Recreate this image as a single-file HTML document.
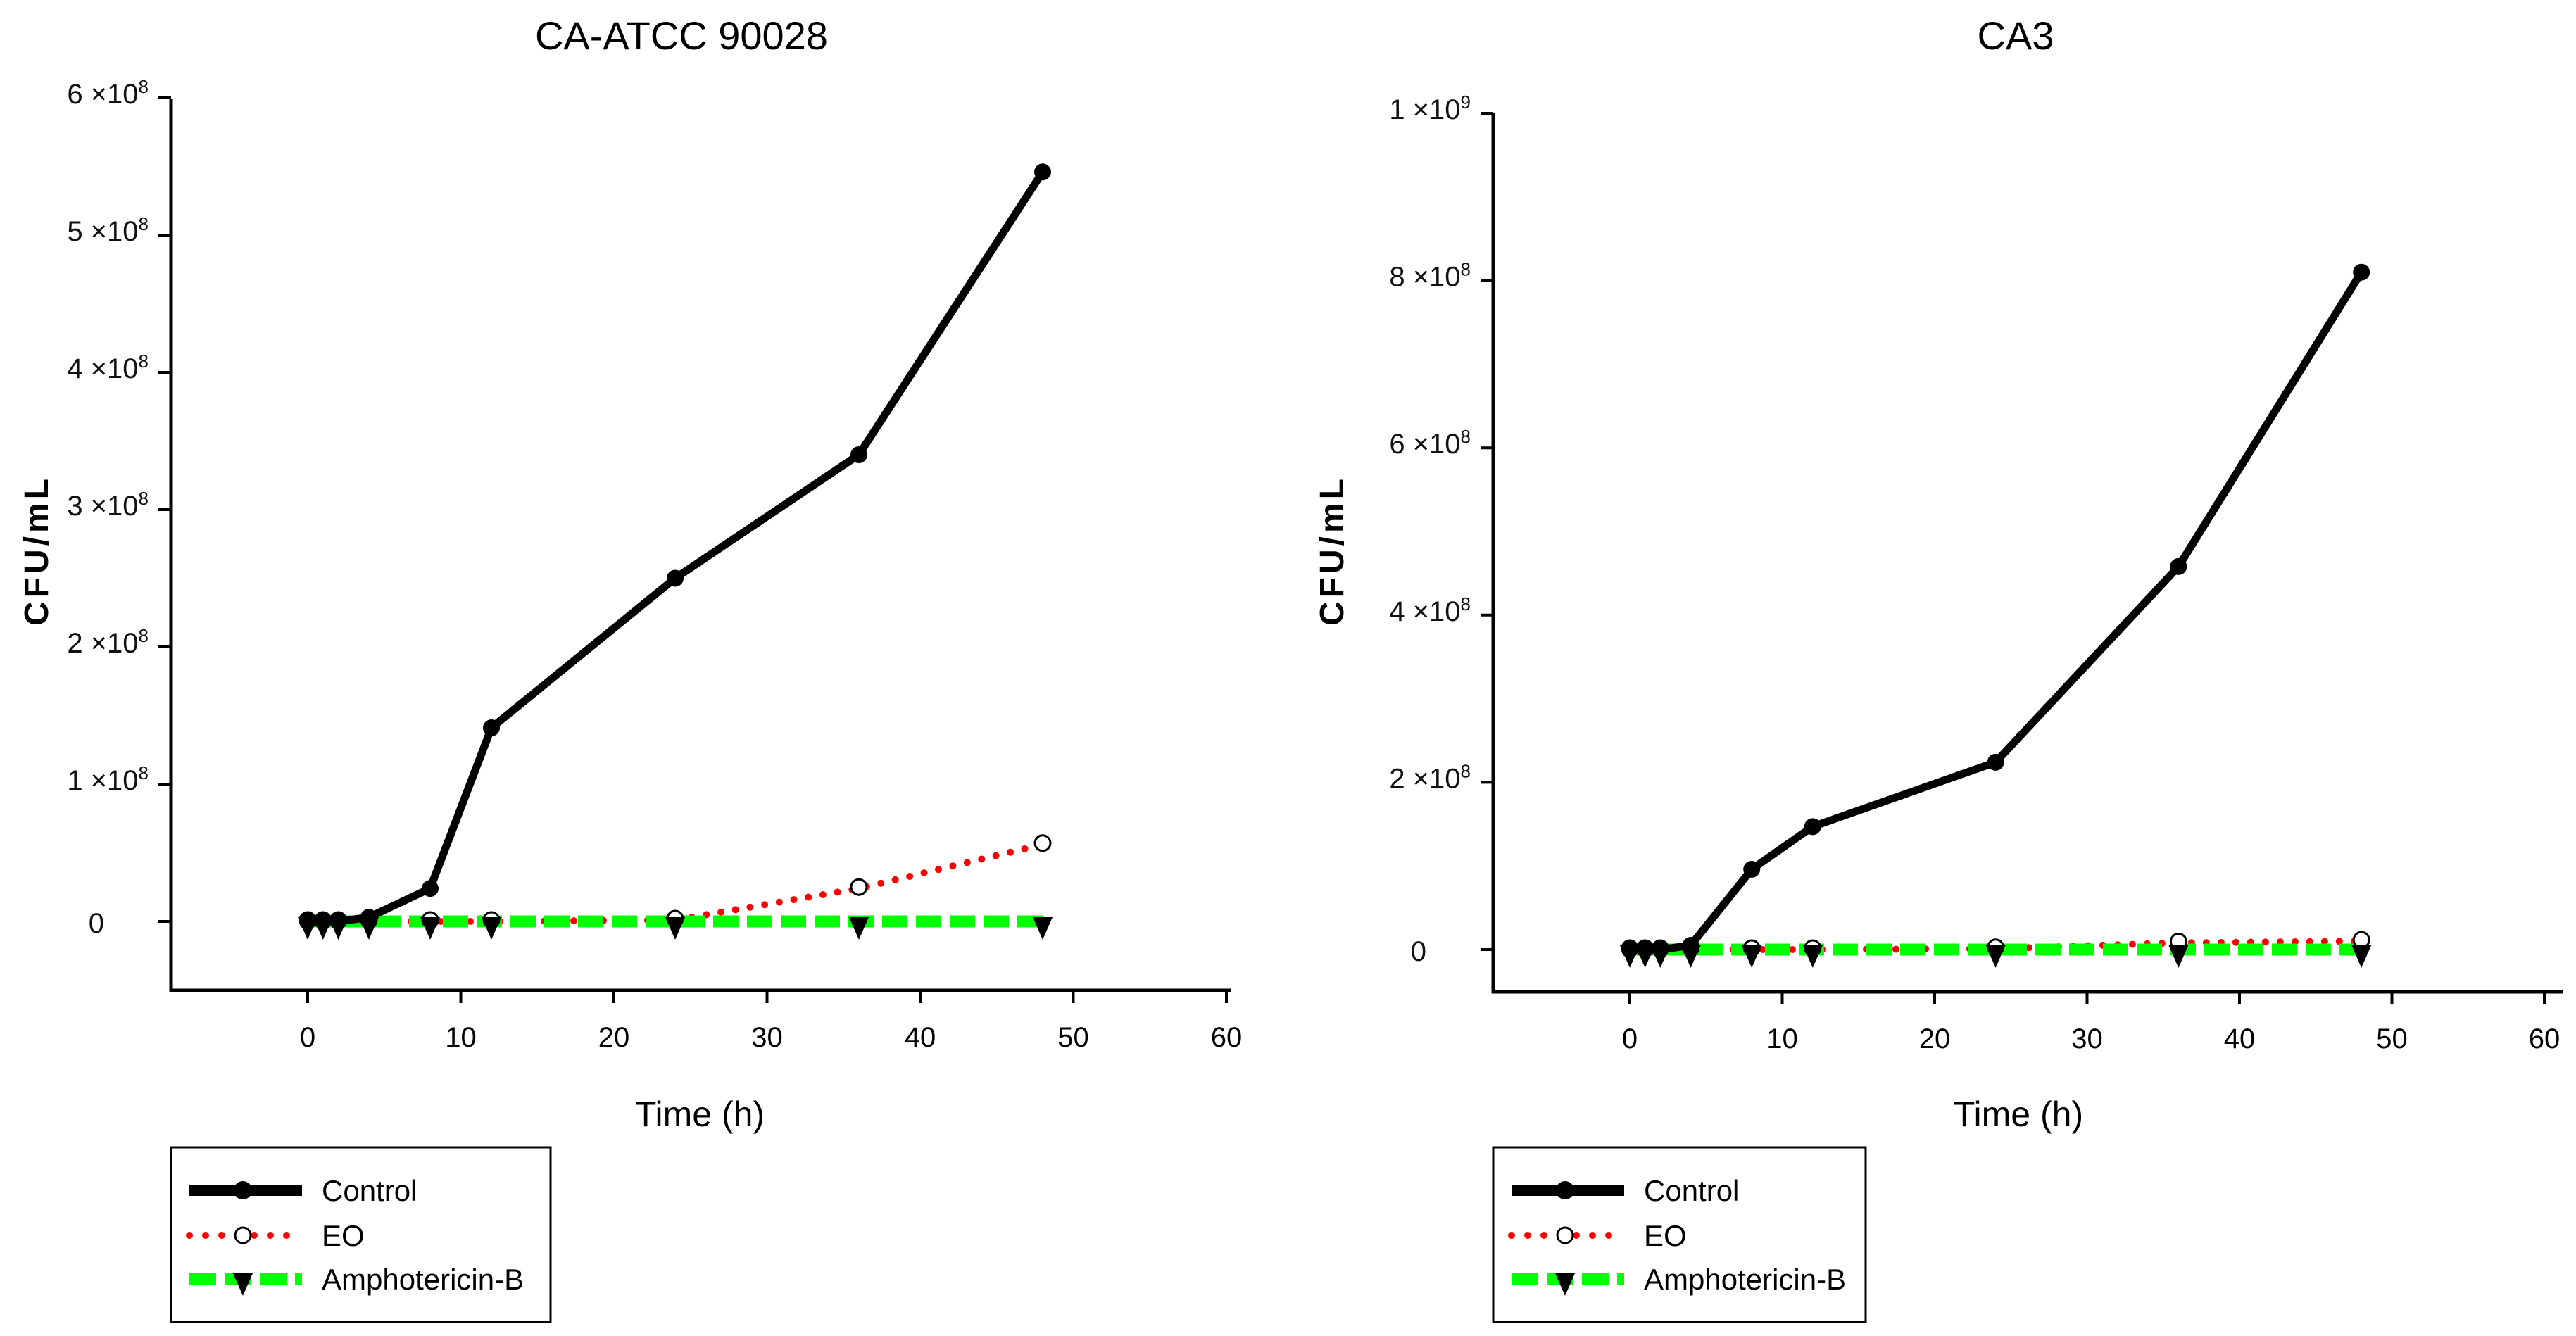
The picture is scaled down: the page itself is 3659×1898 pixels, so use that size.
<!DOCTYPE html>
<html><head><meta charset="utf-8">
<style>
html,body{margin:0;padding:0;background:#fff;}
svg{display:block;font-family:"Liberation Sans",sans-serif;}
</style></head>
<body>
<svg id="svg" width="3659" height="1898" viewBox="0 0 3659 1898" xmlns="http://www.w3.org/2000/svg"></svg>
<script>
const times = [0, 1, 2, 4, 8, 12, 24, 36, 48];
const ctrlA = [0, 0, 0, 0.03e8, 0.24e8, 1.41e8, 2.5e8, 3.4e8, 5.46e8];
const eoA   = [0, 0, 0, 0, 0, 0, 0.01e8, 0.24e8, 0.56e8];
const ampA  = [0, 0, 0, 0, 0, 0, 0, 0, 0];
const ctrlB = [0, 0, 0, 0.05e8, 0.96e8, 1.47e8, 2.24e8, 4.58e8, 8.1e8];
const eoB   = [0, 0, 0, 0, 0, 0, 0.01e8, 0.08e8, 0.1e8];
const ampB  = [0, 0, 0, 0, 0, 0, 0, 0, 0];
const xTicks = [0, 10, 20, 30, 40, 50, 60];
const yTicksA = [0, 1, 2, 3, 4, 5, 6];
const yTicksB = [0, 2, 4, 6, 8, 10];
const seriesNames = ["Control", "EO", "Amphotericin-B"];

const NS = "http://www.w3.org/2000/svg";
const svg = document.getElementById('svg');
function mk(tag, attrs, parent, text){
  const e = document.createElementNS(NS, tag);
  for (const k in attrs) e.setAttribute(k, attrs[k]);
  if (text !== undefined) e.textContent = text;
  (parent || svg).appendChild(e);
  return e;
}

function chart(cfg){
  const g = mk('g', {});
  
  
  const xs = v => cfg.x0 + (v - 0) * cfg.xPer;
  const ys = v => cfg.y0 - v * cfg.yPer;
  const t = mk('text', {x: cfg.titleX, y: 70, 'font-size': 56, 'text-anchor': 'middle', fill: '#000'}, g, cfg.title);
  
  
  const ax = mk('path', {d: `M${cfg.axL} ${cfg.yTop} V${cfg.axB} H${cfg.axR}`, stroke: '#000', 'stroke-width': 5, fill: 'none'}, g);
  
  
  xTicks.forEach(v => {
    const x = xs(v);
    mk('line', {x1: x, x2: x, y1: cfg.axB, y2: cfg.axB + 18, stroke: '#000', 'stroke-width': 4}, g);
    const tl = mk('text', {x: x, y: cfg.axB + 80, 'font-size': 40, 'text-anchor': 'middle'}, g, String(v));
    
    
  });
  cfg.yTicks.forEach(v => {
    const val = v * 1e8;
    const y = ys(val);
    mk('line', {x1: cfg.axL - 18, x2: cfg.axL, y1: y, y2: y, stroke: '#000', 'stroke-width': 4}, g);
    const tl = mk('text', {x: cfg.axL - 32, y: y + 8, 'font-size': 40, 'text-anchor': 'end', fill: '#111'}, g);
    
    
    if (v === 0) { tl.textContent = '0'; tl.setAttribute('x', cfg.axL - 95); tl.setAttribute('y', y + 16); }
    else {
      let m = v, e = 8;
      if (val >= 1e9) { m = val / 1e9; e = 9; }
      mk('tspan', {}, tl, m + ' \u00d710');
      mk('tspan', {'font-size': 26, dy: -15}, tl, String(e));
    }
  });
  const xt = mk('text', {x: cfg.xTitleX, y: 1600, 'font-size': 50, 'text-anchor': 'middle'}, g, 'Time (h)');
  
  
  const yt = mk('text', {x: 0, y: 0, 'font-size': 48, 'font-weight': 'bold', 'letter-spacing': 5, 'text-anchor': 'middle', transform: `translate(${cfg.yTitleX},782) rotate(-90)`}, g, 'CFU/mL');
  
  

  const styles = [
    {stroke: '#000', w: 11, dash: null},
    {stroke: '#ff0000', w: 10, dash: '0 21', cap: 'round'},
    {stroke: '#00ff00', w: 17, dash: '36 12', cap: 'butt'}
  ];
  const data = [cfg.ctrl, cfg.eo, cfg.amp];
  [1, 2, 0].forEach(si => {
    const st = styles[si];
    const pts = times.map((tm, i) => xs(tm) + ',' + ys(data[si][i])).join(' ');
    const pl = mk('polyline', {points: pts, fill: 'none', stroke: st.stroke, 'stroke-width': st.w, 'stroke-linejoin': 'round'}, g);
    if (st.dash) { pl.setAttribute('stroke-dasharray', st.dash); pl.setAttribute('stroke-linecap', st.cap); }
    
    
  });
  times.forEach((tm, i) => {
    const x = xs(tm);
    const c = mk('circle', {cx: x, cy: ys(cfg.eo[i]) - 2, r: 11, fill: '#fff', stroke: '#000', 'stroke-width': 3}, g);
    
    
    const ya = ys(cfg.amp[i]);
    const tr = mk('polygon', {points: `${x-14},${ya-6} ${x+14},${ya-6} ${x},${ya+26}`, fill: '#000'}, g);
    
    
    const cc = mk('circle', {cx: x, cy: ys(cfg.ctrl[i]), r: 12, fill: '#000'}, g);
    
    
  });
  const lg = mk('g', {}, g);
  
  
  mk('rect', {x: cfg.axL, y: 1630, width: cfg.legW, height: 248, fill: '#fff', stroke: '#000', 'stroke-width': 3}, lg);
  const ly = [1691, 1755, 1817];
  const lx1 = cfg.axL + 26, lx2 = cfg.axL + 186, lm = cfg.axL + 102;
  seriesNames.forEach((nm, si) => {
    const st = styles[si];
    const ent = mk('g', {}, lg);
    
    
    const ln = mk('line', {x1: lx1, x2: lx2, y1: ly[si], y2: ly[si], stroke: st.stroke, 'stroke-width': si === 0 ? 16 : st.w}, ent);
    if (st.dash) { ln.setAttribute('stroke-dasharray', si === 1 ? '0 23' : '38 12'); ln.setAttribute('stroke-linecap', si === 1 ? 'round' : 'butt'); }
    if (si === 0) mk('circle', {cx: lm, cy: ly[si], r: 13, fill: '#000'}, ent);
    if (si === 1) mk('circle', {cx: lm, cy: ly[si], r: 11, fill: '#fff', stroke: '#000', 'stroke-width': 3}, ent);
    if (si === 2) mk('polygon', {points: `${lm-14},${ly[si]-8} ${lm+14},${ly[si]-8} ${lm},${ly[si]+24}`, fill: '#000'}, ent);
    mk('text', {x: cfg.axL + 214, y: ly[si] + 15, 'font-size': 42}, ent, nm);
  });
}

chart({name: 'chart-ca-atcc-90028', title: 'CA-ATCC 90028', titleX: 968,
  x0: 437, xPer: 21.75, y0: 1309, yPer: 195 / 1e8, yTicks: yTicksA,
  axL: 243, axR: 1748, axB: 1407, yTop: 140, xTitleX: 994, yTitleX: 68,
  ctrl: ctrlA, eo: eoA, amp: ampA, legW: 539});
chart({name: 'chart-ca3', title: 'CA3', titleX: 2863,
  x0: 2315, xPer: 21.65, y0: 1349, yPer: 118.8 / 1e8, yTicks: yTicksB,
  axL: 2121, axR: 3640, axB: 1409, yTop: 161, xTitleX: 2867, yTitleX: 1908,
  ctrl: ctrlB, eo: eoB, amp: ampB, legW: 529});
</script>
</body></html>
